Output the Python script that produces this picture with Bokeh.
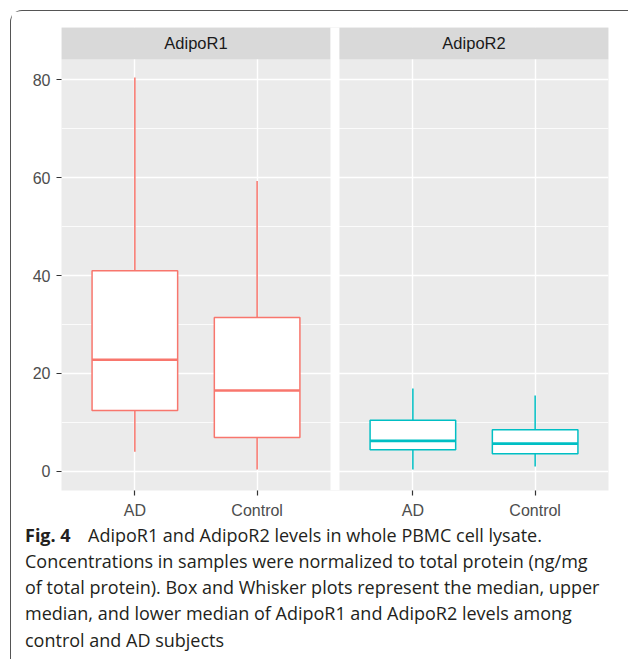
from bokeh.plotting import figure
from bokeh.layouts import column
from bokeh.models import (ColumnDataSource, Range1d, FixedTicker, CustomJSTickFormatter,
                          BoxAnnotation, Label)
from bokeh.embed import file_html
from bokeh.resources import INLINE

# ---------------- data ----------------
panels = ["AdipoR1", "AdipoR2"]
categories_order = ["AD", "Control"]
groups = ["AdipoR1", "AdipoR1", "AdipoR2", "AdipoR2"]
categories = ["AD", "Control", "AD", "Control"]
lower_whisker = [4.0, 0.35, 0.35, 0.95]
q1 = [12.4, 6.9, 4.4, 3.55]
median = [22.8, 16.5, 6.2, 5.65]
q3 = [41.0, 31.4, 10.4, 8.5]
upper_whisker = [80.5, 59.3, 16.9, 15.5]
y_ticks = [0, 20, 40, 60, 80]
y_minor_ticks = [10, 30, 50, 70]
panel_colors = {"AdipoR1": "#F8766D", "AdipoR2": "#00BFC4"}

caption_bold = "Fig. 4"
caption_lines = [
    "AdipoR1 and AdipoR2 levels in whole PBMC cell lysate.",
    "Concentrations in samples were normalized to total protein (ng/mg",
    "of total protein). Box and Whisker plots represent the median, upper",
    "median, and lower median of AdipoR1 and AdipoR2 levels among",
    "control and AD subjects",
]

# ---------------- layout constants ----------------
ORIGIN = 11.5                     # card margin + border
W = 617
CHART_H = 510
CAP_H = 138
FRAME_L, FRAME_R, FRAME_T, FRAME_B = 50, 597, 16, 479   # within chart figure
BOX_W = 0.7
EXPAND = 0.6
GAP_U = 0.074
PANEL_SPAN = len(categories_order) - 1 + 2 * EXPAND
OFFSET = PANEL_SPAN + GAP_U
Y_LO, PANEL_TOP, Y_HI = -3.94, 84.2, 90.7

AXIS_FONT = "Liberation Sans"
CAP_FONT = "Open Sans"
CAP_SIZE = "18px"
CAP_COLOR = "#231F20"

xs = [categories_order.index(c) + 1 + panels.index(g) * OFFSET for g, c in zip(groups, categories)]
cols = [panel_colors[g] for g in groups]
src = ColumnDataSource(dict(
    x=xs, x0=[x - BOX_W / 2 for x in xs], x1=[x + BOX_W / 2 for x in xs],
    lw=lower_whisker, q1=q1, med=median, q3=q3, uw=upper_whisker, color=cols,
))

x_lo = 1 - EXPAND
x_hi = x_lo + PANEL_SPAN * len(panels) + GAP_U * (len(panels) - 1)

p = figure(width=W, height=CHART_H, output_backend="svg", toolbar_location=None,
           x_range=Range1d(x_lo, x_hi), y_range=Range1d(Y_LO, Y_HI),
           min_border_left=FRAME_L, min_border_right=W - FRAME_R,
           min_border_top=FRAME_T, min_border_bottom=CHART_H - FRAME_B)
p.frame_align = False
p.background_fill_color = "#EBEBEB"
p.border_fill_color = "white"
p.outline_line_color = None

p.xgrid.ticker = FixedTicker(ticks=xs)
p.xgrid.grid_line_color = "white"
p.xgrid.grid_line_width = 1.4
p.ygrid.ticker = FixedTicker(ticks=y_ticks, minor_ticks=y_minor_ticks)
p.ygrid.grid_line_color = "white"
p.ygrid.grid_line_width = 1.4
p.ygrid.minor_grid_line_color = "white"
p.ygrid.minor_grid_line_width = 0.8

xa = p.xaxis[0]
xa.ticker = FixedTicker(ticks=xs)
xa.formatter = CustomJSTickFormatter(args=dict(labels=categories), code="return labels[index] || '';")
ya = p.yaxis[0]
ya.ticker = FixedTicker(ticks=y_ticks, minor_ticks=y_minor_ticks)
for ax in (xa, ya):
    ax.axis_line_color = None
    ax.major_tick_line_color = "#333333"
    ax.major_tick_line_width = 1.2
    ax.major_tick_out = 5
    ax.major_tick_in = 0
    ax.minor_tick_line_color = None
    ax.major_label_text_font = AXIS_FONT
    ax.major_label_text_font_size = "16px"
    ax.major_label_text_color = "#4D4D4D"
    ax.major_label_standoff = 6

p.segment(x0="x", y0="q3", x1="x", y1="uw", line_color="color", line_width=1.5, source=src)
p.segment(x0="x", y0="lw", x1="x", y1="q1", line_color="color", line_width=1.5, source=src)
p.quad(left="x0", right="x1", bottom="q1", top="q3", fill_color="white",
       line_color="color", line_width=1.5, source=src)
p.segment(x0="x0", y0="med", x1="x1", y1="med", line_color="color", line_width=2.6, source=src)

for i, name in enumerate(panels):
    left = x_lo + i * OFFSET
    right = left + PANEL_SPAN
    p.add_layout(BoxAnnotation(left=left, right=right, bottom=PANEL_TOP, top=Y_HI,
                               fill_color="#D9D9D9", fill_alpha=1, line_color=None))
    p.add_layout(Label(x=(left + right) / 2, y=(PANEL_TOP + Y_HI) / 2, text=name,
                       text_align="center", text_baseline="middle",
                       text_font=AXIS_FONT, text_font_size="16.5px", text_color="#1A1A1A"))
    if i < len(panels) - 1:
        p.add_layout(BoxAnnotation(left=right, right=right + GAP_U, bottom=Y_LO, top=Y_HI,
                                   fill_color="white", fill_alpha=1, line_color=None))

# ---------------- caption figure ----------------
c = figure(width=W, height=CAP_H, output_backend="svg", toolbar_location=None,
           x_range=Range1d(0, W), y_range=Range1d(CAP_H, 0),
           min_border=0, x_axis_type=None, y_axis_type=None)
c.frame_align = False
c.outline_line_color = None
c.xgrid.visible = False
c.ygrid.visible = False
c.background_fill_color = "white"
c.border_fill_color = "white"

CAP_X = 25 - ORIGIN
CAP_X2 = 88 - ORIGIN
first_base = 534.5 - ORIGIN - CHART_H
line_gap = 26.3
c.add_layout(Label(x=CAP_X, y=first_base, text=caption_bold, text_font=CAP_FONT,
                   text_font_style="bold", text_font_size=CAP_SIZE, text_color=CAP_COLOR,
                   text_baseline="alphabetic"))
for k, line in enumerate(caption_lines):
    c.add_layout(Label(x=CAP_X2 if k == 0 else CAP_X, y=first_base + k * line_gap, text=line,
                       text_font=CAP_FONT, text_font_size=CAP_SIZE, text_color=CAP_COLOR,
                       text_baseline="alphabetic"))

layout = column(p, c, spacing=0, styles={
    "margin-left": "10px", "margin-top": "10px",
    "border-top": "1.5px solid #555555", "border-left": "1.5px solid #555555",
    "border-top-left-radius": "12px",
})

open("out.html", "w").write(file_html(layout, INLINE))
